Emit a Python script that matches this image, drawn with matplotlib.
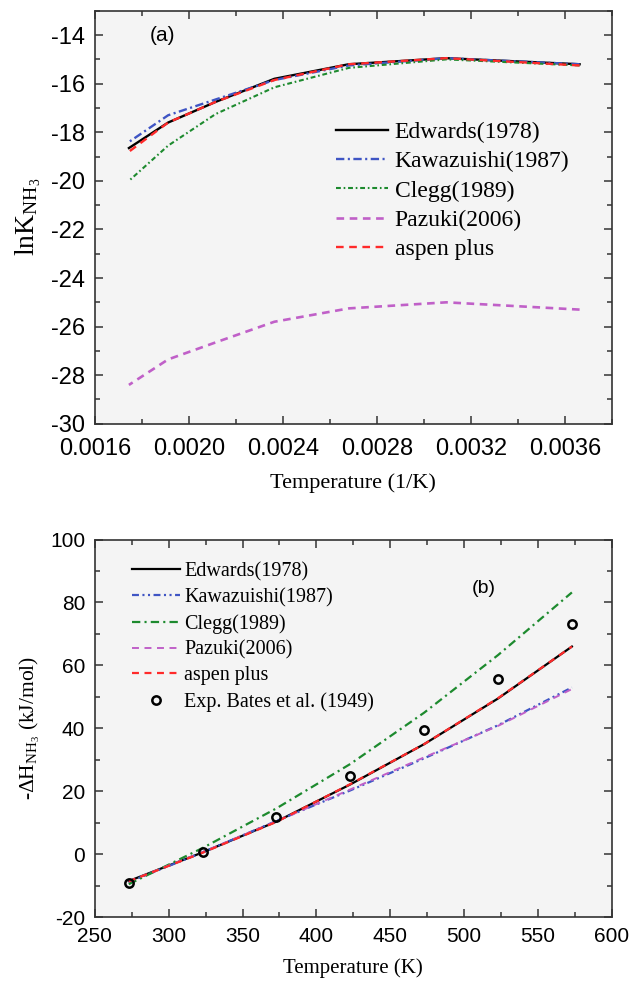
#! /usr/bin/env python3

import matplotlib
matplotlib.use("Agg")
import matplotlib.pyplot as plt
from matplotlib.ticker import MultipleLocator
import numpy as np

plt.rcParams['lines.scale_dashes'] = False
plt.rcParams['axes.unicode_minus'] = False
plt.rcParams['mathtext.fontset'] = 'custom'
plt.rcParams['mathtext.rm'] = 'Liberation Serif'
plt.rcParams['mathtext.it'] = 'Liberation Serif:italic'
plt.rcParams['font.family'] = 'Liberation Sans'

SERIF = 'Liberation Serif'

# temperatures (K), same points for both panels
temps = np.array([273, 323, 373, 423, 473, 523, 573])
inv_t = 1.0 / temps

# (a) lnK_NH3 vs 1/T
lnk_edwards = [-15.2, -14.95, -15.2, -15.8, -16.75, -17.6, -18.65]
lnk_kawazuishi = [-15.2, -14.95, -15.25, -15.85, -16.65, -17.3, -18.4]
lnk_clegg = [-15.25, -15.0, -15.35, -16.15, -17.25, -18.55, -20.0]
lnk_pazuki = [-25.3, -25.0, -25.25, -25.8, -26.65, -27.35, -28.4]
lnk_aspen = [-15.25, -14.95, -15.2, -15.85, -16.75, -17.6, -18.8]

# (b) -dH_NH3 (kJ/mol) vs T
dh_edwards = [-8.5, 0.6, 10.4, 22.2, 35.0, 49.5, 66.0]
dh_kawazuishi = [-8.8, 0.6, 10.6, 20.3, 30.5, 41.0, 53.0]
dh_clegg = [-9.5, 2.0, 14.6, 28.7, 45.0, 63.3, 83.2]
dh_pazuki = [-8.6, 0.7, 10.5, 20.6, 30.8, 40.8, 52.5]
dh_aspen = [-8.6, 0.5, 10.3, 22.3, 35.0, 49.6, 66.0]
dh_exp = [-9.1, 0.6, 11.9, 24.8, 39.4, 55.7, 73.3]

BLACK = 'black'
BLUE = '#3f55c4'
GREEN = '#1d8a2e'
PURPLE = '#c060c8'
RED = '#ff2a2a'


def style_axes(ax, size):
    ax.set_facecolor('#f4f4f4')
    for sp in ax.spines.values():
        sp.set_linewidth(1.2)
        sp.set_color('#333333')
    ax.tick_params(which='both', direction='in', top=True, right=True,
                   width=1.1, color='#333333', labelsize=size, pad=7)
    ax.tick_params(which='major', length=6)
    ax.tick_params(which='minor', length=3.5)


fig = plt.figure(figsize=(6.32, 9.81), dpi=100)

# ---- panel (a) ----
ax1 = fig.add_axes([0.150, 0.568, 0.818, 0.421])
ax1.plot(inv_t, lnk_edwards, color=BLACK, lw=1.7, label='Edwards(1978)')
ax1.plot(inv_t, lnk_kawazuishi, color=BLUE, lw=1.7, dashes=(6, 2.5, 1.5, 2.5),
         label='Kawazuishi(1987)')
ax1.plot(inv_t, lnk_clegg, color=GREEN, lw=1.5, dashes=(3.5, 2, 1.2, 2),
         label='Clegg(1989)')
ax1.plot(inv_t, lnk_pazuki, color=PURPLE, lw=1.9, dashes=(5.5, 4),
         label='Pazuki(2006)')
ax1.plot(inv_t, lnk_aspen, color=RED, lw=1.7, dashes=(5.5, 4),
         label='aspen plus')
ax1.set_xlim(0.0016, 0.0038)
ax1.set_ylim(-30, -13)
ax1.xaxis.set_major_locator(MultipleLocator(0.0004))
ax1.xaxis.set_minor_locator(MultipleLocator(0.0002))
ax1.yaxis.set_major_locator(MultipleLocator(2))
ax1.yaxis.set_minor_locator(MultipleLocator(1))
ax1.xaxis.set_major_formatter(lambda v, p: f"{v:.4f}")
style_axes(ax1, 17)
ax1.tick_params(axis='x', pad=10)
ax1.set_xlabel('Temperature (1/K)', family=SERIF, fontsize=16, labelpad=10)
ax1.set_ylabel(r'$\mathrm{lnK}_{\mathrm{NH}_{3}}$', fontsize=20, labelpad=6)
ax1.text(0.00189, -14.0, '(a)', fontsize=15, ha='center', va='center')
ax1.legend(loc='upper left', bbox_to_anchor=(0.466, 0.732), frameon=False,
           prop={'family': SERIF, 'size': 17}, handlelength=2.2,
           handletextpad=0.3, labelspacing=0.33, borderpad=0,
           borderaxespad=0)

# ---- panel (b) ----
ax2 = fig.add_axes([0.150, 0.065, 0.818, 0.385])
ax2.plot(temps, dh_edwards, color=BLACK, lw=1.6, label='Edwards(1978)')
ax2.plot(temps, dh_kawazuishi, color=BLUE, lw=1.6,
         dashes=(5, 2.5, 1.5, 2.5, 1.5, 2.5), label='Kawazuishi(1987)')
ax2.plot(temps, dh_clegg, color=GREEN, lw=1.6, dashes=(6, 3, 1.5, 3),
         label='Clegg(1989)')
ax2.plot(temps, dh_pazuki, color=PURPLE, lw=1.4, dashes=(5, 4),
         label='Pazuki(2006)')
ax2.plot(temps, dh_aspen, color=RED, lw=1.6, dashes=(5, 4),
         label='aspen plus')
ax2.plot(temps, dh_exp, 'o', ms=6, mfc='none', mec='black', mew=1.8,
         label='Exp. Bates et al. (1949)')
ax2.set_xlim(250, 600)
ax2.set_ylim(-20, 100)
ax2.xaxis.set_major_locator(MultipleLocator(50))
ax2.xaxis.set_minor_locator(MultipleLocator(25))
ax2.yaxis.set_major_locator(MultipleLocator(20))
ax2.yaxis.set_minor_locator(MultipleLocator(10))
style_axes(ax2, 15)
ax2.set_xlabel('Temperature (K)', family=SERIF, fontsize=15, labelpad=9)
ax2.set_ylabel(r'-$\Delta\mathrm{H}_{\mathrm{NH}_{3}}$ (kJ/mol)',
               family=SERIF, fontsize=15.5, labelpad=6)
ax2.text(513, 84.6, '(b)', fontsize=14, ha='center', va='center')
ax2.legend(loc='upper left', bbox_to_anchor=(0.072, 0.94), frameon=False,
           prop={'family': SERIF, 'size': 14.5}, handlelength=2.4,
           handletextpad=0.2, labelspacing=0.33, borderpad=0,
           borderaxespad=0)

plt.savefig("out.png", dpi=100)
